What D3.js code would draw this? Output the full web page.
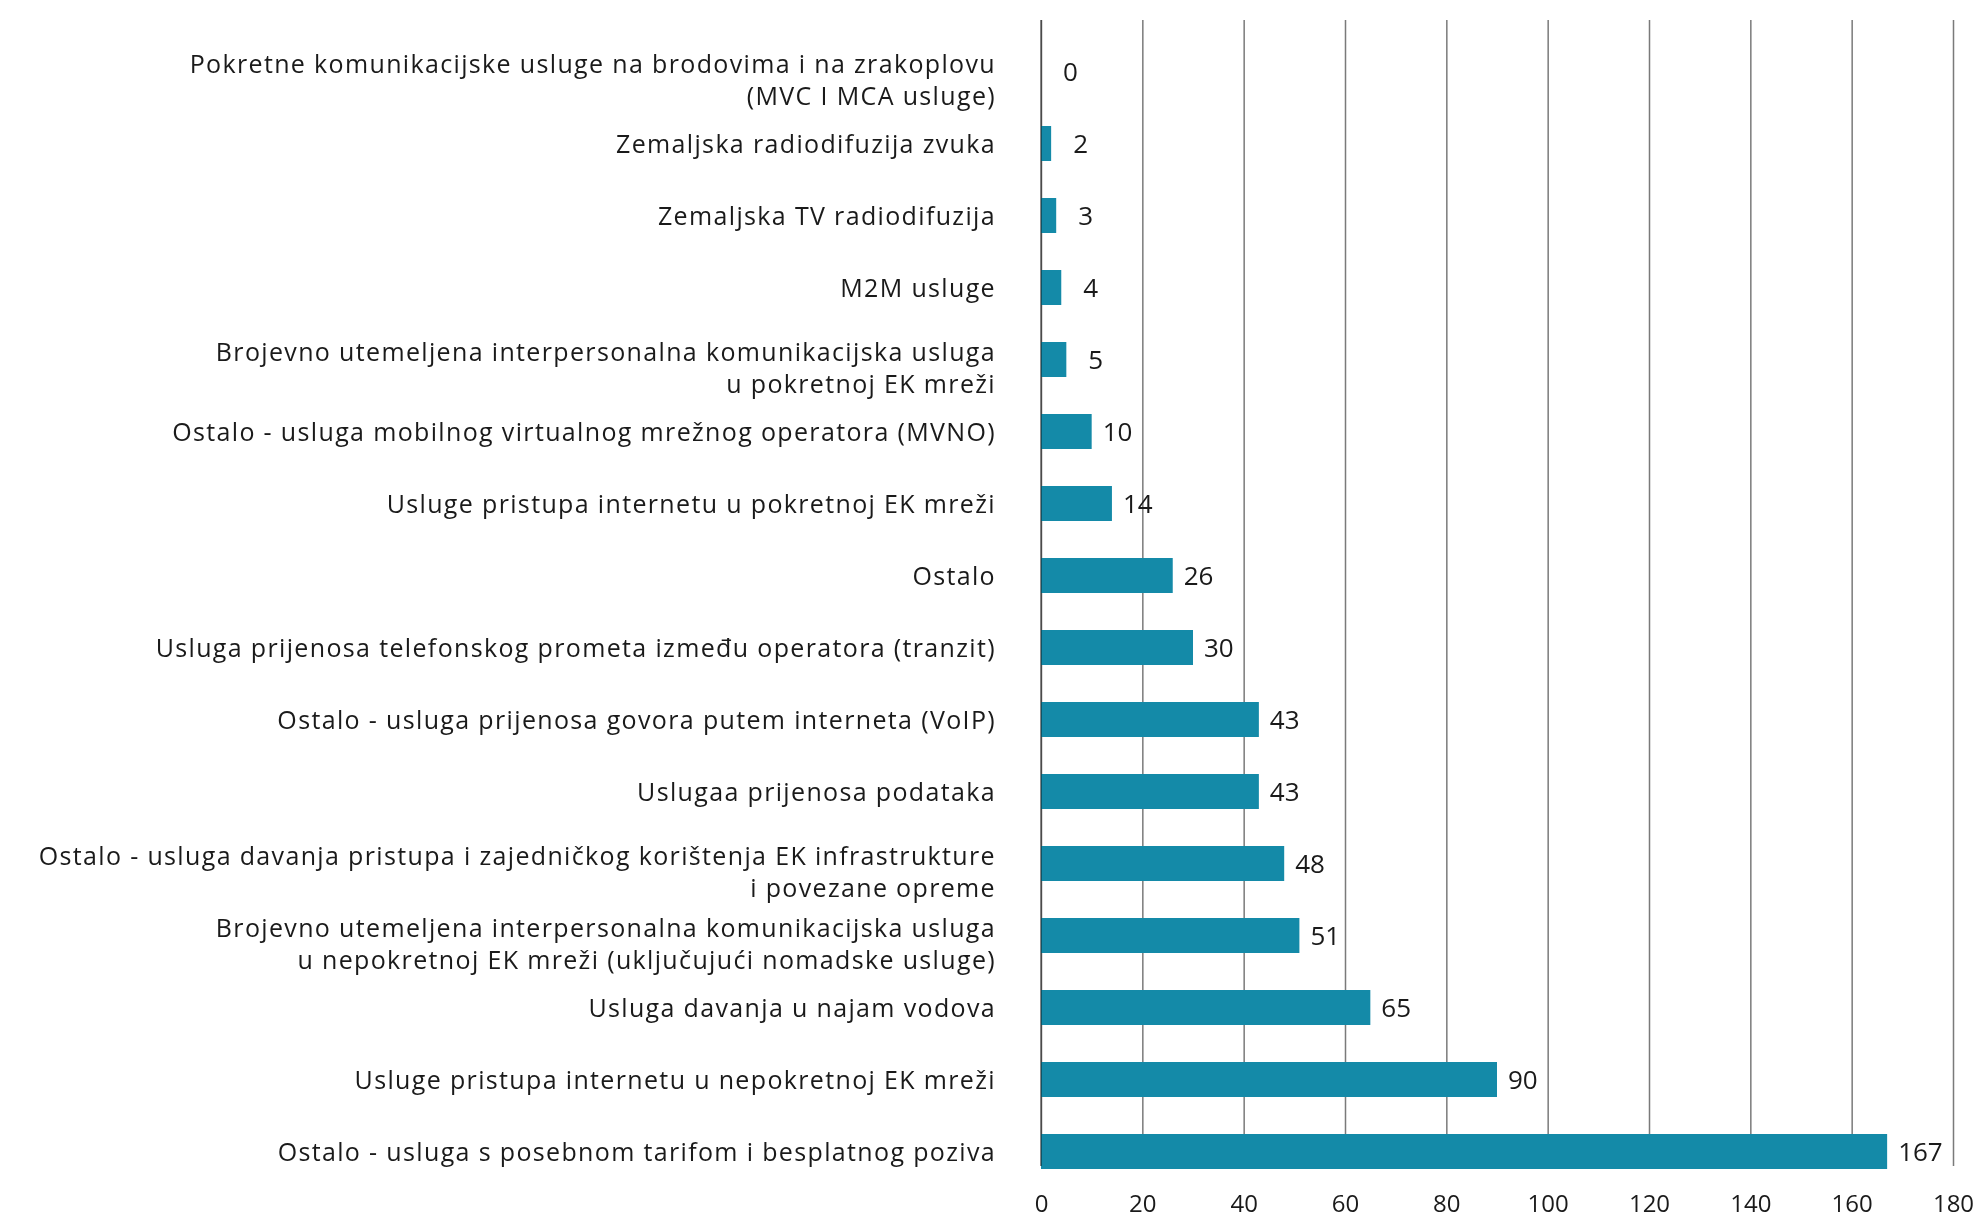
<!DOCTYPE html>
<html>
<head>
<meta charset="utf-8">
<script src="https://cdn.jsdelivr.net/npm/d3@7"></script>
<style>
  body { margin: 0; background: #fff; }
  svg { display: block; }
  text { font-family: "Open Sans", "Noto Sans", sans-serif; fill: #1a1a1a; }
</style>
</head>
<body>
<div id="chart"></div>
<script>
// categories, top to bottom
const categories = [
  "Pokretne komunikacijske usluge na brodovima i na zrakoplovu\n(MVC I MCA usluge)",
  "Zemaljska radiodifuzija zvuka",
  "Zemaljska TV radiodifuzija",
  "M2M usluge",
  "Brojevno utemeljena interpersonalna komunikacijska usluga\nu pokretnoj EK mreži",
  "Ostalo - usluga mobilnog virtualnog mrežnog operatora (MVNO)",
  "Usluge pristupa internetu u pokretnoj EK mreži",
  "Ostalo",
  "Usluga prijenosa telefonskog prometa između operatora (tranzit)",
  "Ostalo - usluga prijenosa govora putem interneta (VoIP)",
  "Uslugaa prijenosa podataka",
  "Ostalo - usluga davanja pristupa i zajedničkog korištenja EK infrastrukture\ni povezane opreme",
  "Brojevno utemeljena interpersonalna komunikacijska usluga\nu nepokretnoj EK mreži (uključujući nomadske usluge)",
  "Usluga davanja u najam vodova",
  "Usluge pristupa internetu u nepokretnoj EK mreži",
  "Ostalo - usluga s posebnom tarifom i besplatnog poziva"
];
const values = [0, 2, 3, 4, 5, 10, 14, 26, 30, 43, 43, 48, 51, 65, 90, 167];
const tickValues = [0, 20, 40, 60, 80, 100, 120, 140, 160, 180];

let xScale, yScale;
let svg;

function createChart() {
  const width = 1979, height = 1219;
  const plot = { left: 1041, right: 1953, top: 20, bottom: 1166 };

  const data = categories.map((c, i) => ({ cat: c, value: values[i] }));

  svg = d3.select("#chart")
      .append("svg")
      .attr("width", width)
      .attr("height", height);

  xScale = d3.scaleLinear()
      .domain([0, 180])
      .range([plot.left, plot.right]);

  yScale = d3.scaleBand()
      .domain(categories)
      .range([35.5, 1187.5])
      .paddingInner(0.514)
      .paddingOuter(0.257);

  // vertical gridlines
  const grid = svg.append("g")
      .attr("class", "grid")
      .attr("transform", `translate(0, ${plot.top})`)
      .call(d3.axisTop(xScale).tickValues(tickValues).tickFormat("").tickSize(-(plot.bottom - plot.top)));
  grid.select(".domain").remove();
  grid.selectAll("line").attr("stroke", "#7a7a7a").attr("stroke-width", 1.5);

  // bars
  svg.append("g")
      .attr("class", "bars")
    .selectAll("rect")
    .data(data)
    .join("rect")
      .attr("x", xScale(0))
      .attr("y", d => yScale(d.cat))
      .attr("width", d => xScale(d.value) - xScale(0))
      .attr("height", yScale.bandwidth())
      .attr("fill", "#148aa8");

  // zero line drawn over the bars (darker where it crosses them)
  svg.append("line")
      .attr("x1", xScale(0)).attr("x2", xScale(0))
      .attr("y1", plot.top).attr("y2", plot.bottom)
      .attr("stroke", "#7a7a7a")
      .attr("stroke-width", 1.5)
      .style("mix-blend-mode", "multiply");

  // value labels
  svg.append("g")
      .attr("class", "values")
    .selectAll("text")
    .data(data)
    .join("text")
      .attr("x", d => xScale(d.value) + (d.value < 10 ? 22 : 11))
      .attr("y", d => yScale(d.cat) + yScale.bandwidth() / 2)
      .attr("dy", "0.36em")
      .style("font-size", "26px")
      .text(d => d.value);

  // category labels (right aligned, may wrap in two lines)
  const labels = svg.append("g")
      .attr("class", "cat-labels")
    .selectAll("text")
    .data(data)
    .join("text")
      .attr("text-anchor", "end")
      .style("font-size", "25px")
      .style("letter-spacing", "1.35px")
      .attr("y", d => yScale(d.cat) + yScale.bandwidth() / 2);

  labels.each(function (d) {
    const lines = d.cat.split("\n");
    const lineH = 32;
    const shift = lines.length > 1 ? 8 : 0;
    const y0 = yScale(d.cat) + yScale.bandwidth() / 2 - (lines.length - 1) * lineH / 2 + shift;
    d3.select(this).selectAll("tspan")
      .data(lines)
      .join("tspan")
        .attr("x", 996)
        .attr("y", (l, i) => y0 + i * lineH)
        .attr("dy", "0.36em")
        .text(l => l);
  });

  // x axis tick labels
  const xAxis = svg.append("g")
      .attr("class", "x-axis")
      .attr("transform", `translate(0, ${plot.bottom})`)
      .call(d3.axisBottom(xScale).tickValues(tickValues).tickSize(0).tickPadding(29));
  xAxis.select(".domain").remove();
  xAxis.selectAll("text")
      .style("font-size", "24px")
      .style("font-family", "'Open Sans', sans-serif")
      .attr("fill", "#1a1a1a");
}

document.addEventListener('DOMContentLoaded', createChart);
</script>
</body>
</html>
